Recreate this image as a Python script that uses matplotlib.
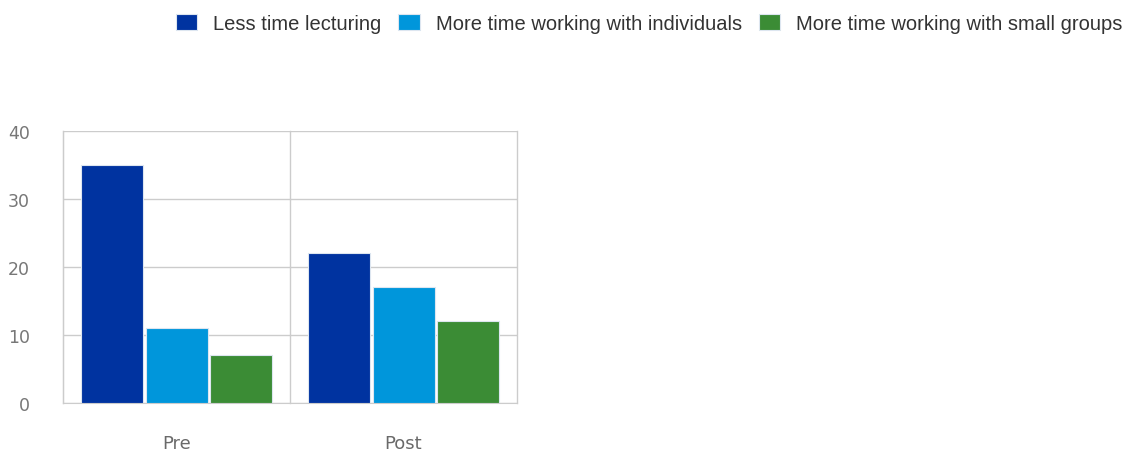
import matplotlib.pyplot as plt
import numpy as np

# survey responses: what teachers said they would change
categories = ['Pre', 'Post']
series = ['Less time lecturing',
          'More time working with individuals',
          'More time working with small groups']
less_lecturing = [35, 22]
more_individuals = [11, 17]
more_small_groups = [7, 12]
y_ticks = [0, 10, 20, 30, 40]

colors = ['#0033a0', '#0096db', '#3b8c35']


def main():
    plt.rcParams['font.family'] = ['Liberation Sans', 'DejaVu Sans']
    fig = plt.figure(figsize=(11.25, 4.52), dpi=100)
    ax = fig.add_axes([0.056, 0.106, 0.4036, 0.602])

    x = np.arange(len(categories))
    width = 0.273
    offset = 0.286
    values = [less_lecturing, more_individuals, more_small_groups]
    handles = []
    for i, (name, vals) in enumerate(zip(series, values)):
        b = ax.bar(x + (i - 1) * offset, vals, width, color=colors[i],
                   edgecolor='#dde6f0', linewidth=0.8, label=name, zorder=3)
        handles.append(b)

    ax.set_xlim(-0.5, 1.5)
    ax.set_ylim(0, 40)
    ax.set_yticks(y_ticks)
    ax.set_xticks(x)
    ax.set_xticklabels(categories, fontfamily='DejaVu Sans', fontsize=13,
                       color='#6a6a6a')
    ax.tick_params(axis='x', length=0, pad=22)
    ax.tick_params(axis='y', length=0, pad=24, labelsize=12.5,
                   labelcolor='#777777')
    for lbl in ax.get_yticklabels():
        lbl.set_fontfamily('DejaVu Sans')

    # horizontal gridlines plus the category dividers
    ax.grid(axis='y', color='#cccccc', linewidth=1, zorder=0)
    for xv in [-0.5, 0.5, 1.5]:
        ax.axvline(xv, color='#cccccc', linewidth=1, zorder=0, clip_on=False)
    for s in ['top', 'right']:
        ax.spines[s].set_visible(False)
    for s in ['left', 'bottom']:
        ax.spines[s].set_color('#cccccc')

    fig.legend(handles=handles, labels=series, loc='upper right',
               bbox_to_anchor=(1.014, 1.007), ncol=3, frameon=False,
               fontsize=14.5, handlelength=1.05, handleheight=0.85,
               handletextpad=0.8, columnspacing=0.85, labelcolor='#333333')

    fig.savefig('out.png', dpi=100)


if __name__ == "__main__":
    main()
